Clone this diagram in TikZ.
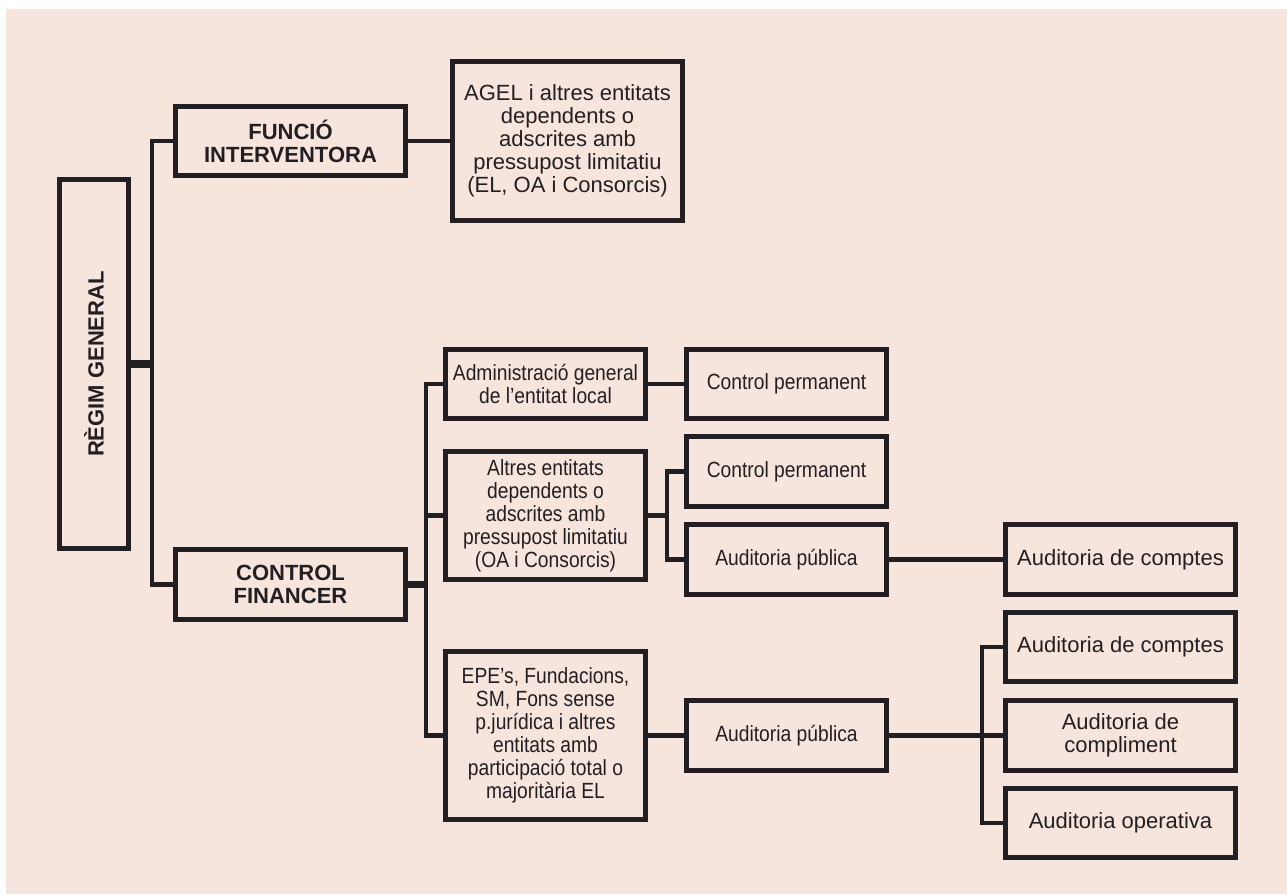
\documentclass[tikz,border=0pt]{standalone}
\usepackage{graphicx}
\usepackage{fontspec}
\setmainfont{Liberation Sans}
\newfontfamily\condfont[FakeStretch=0.875]{Liberation Sans}
\definecolor{bgpeach}{RGB}{246,229,220}
\definecolor{ink}{RGB}{35,31,32}
\tikzset{
  wh/.style 2 args={minimum width={(#1-4.8)*0.75pt}, minimum height={(#2-4.8)*0.75pt}},
  box/.style={draw=ink, line width=3.6pt, fill=bgpeach, align=center, inner sep=0pt,
    text=ink, font=\fontsize{16.5}{17.25}\selectfont},
  boldbox/.style={box, font=\fontsize{16.5}{17.25}\selectfont\bfseries},
  condbox/.style={box, font=\fontsize{16.5}{17.25}\selectfont\condfont},
  conn/.style={draw=ink, line width=3.6pt},
  thickconn/.style={draw=ink, line width=5.4pt}
}
\begin{document}
\begin{tikzpicture}[x=0.75pt,y=-0.75pt]
\useasboundingbox (0,0) rectangle (1287,894);
\fill[bgpeach] (6,9) rectangle (1287,894);

% nodes
\node[boldbox, wh={74}{374}] (RG) at (94,364) {\rotatebox{90}{RÈGIM GENERAL}};
\node[boldbox, wh={235}{74}] (FI) at (290.5,141) {FUNCIÓ\\INTERVENTORA};
\node[boldbox, wh={235}{75}] (CF) at (290.5,584.5) {CONTROL\\FINANCER};
\node[box, wh={235}{164}] (AGEL) at (567.5,141) {AGEL i altres entitats\\dependents o\\adscrites amb\\pressupost limitatiu\\(EL, OA i Consorcis)};
\node[condbox, wh={205}{74}] (ADM) at (545.5,384) {Administració general\\de l’entitat local};
\node[condbox, wh={205}{74}] (CP1) at (786.5,384) {Control permanent};
\node[condbox, wh={205}{133}] (ALT) at (545.5,515.5) {Altres entitats\\dependents o\\adscrites amb\\pressupost limitatiu\\(OA i Consorcis)};
\node[condbox, wh={205}{75}] (CP2) at (786.5,471.5) {Control permanent};
\node[condbox, wh={205}{75}] (AP1) at (786.5,559.5) {Auditoria pública};
\node[condbox, wh={205}{173}] (EPE) at (545.5,735.5) {EPE’s, Fundacions,\\SM, Fons sense\\p.jurídica i altres\\entitats amb\\participació total o\\majoritària EL};
\node[condbox, wh={205}{75}] (AP2) at (786.5,735.5) {Auditoria pública};
\node[box, wh={235}{75}] (AC1) at (1120.5,559.5) {Auditoria de comptes};
\node[box, wh={235}{74}] (AC2) at (1120.5,647) {Auditoria de comptes};
\node[box, wh={235}{75}] (ACM) at (1120.5,735.5) {Auditoria de\\compliment};
\node[box, wh={235}{74}] (AO) at (1120.5,823) {Auditoria operativa};

% junctions
\coordinate (j1) at (152,364);
\coordinate (j2) at (426,584.5);
\coordinate (j3) at (667,515.5);
\coordinate (j4) at (982,735.5);

% connectors
\draw[thickconn] (RG.east) -- (j1);
\draw[conn] (FI.west) -| (j1) |- (CF.west);
\draw[conn] (FI.east) -- (AGEL.west);
\draw[thickconn] (CF.east) -- (j2);
\draw[conn] (ADM.west) -| (j2) |- (EPE.west);
\draw[conn] (ALT.west) -- (ALT.west -| j2);
\draw[conn] (ADM.east) -- (CP1.west);
\draw[conn] (ALT.east) -- (j3);
\draw[conn] (CP2.west) -| (j3) |- (AP1.west);
\draw[conn] (AP1.east) -- (AC1.west);
\draw[conn] (EPE.east) -- (AP2.west);
\draw[conn] (AP2.east) -- (j4);
\draw[conn] (AC2.west) -| (j4) |- (AO.west);
\draw[conn] (j4) -- (ACM.west);
\end{tikzpicture}
\end{document}
